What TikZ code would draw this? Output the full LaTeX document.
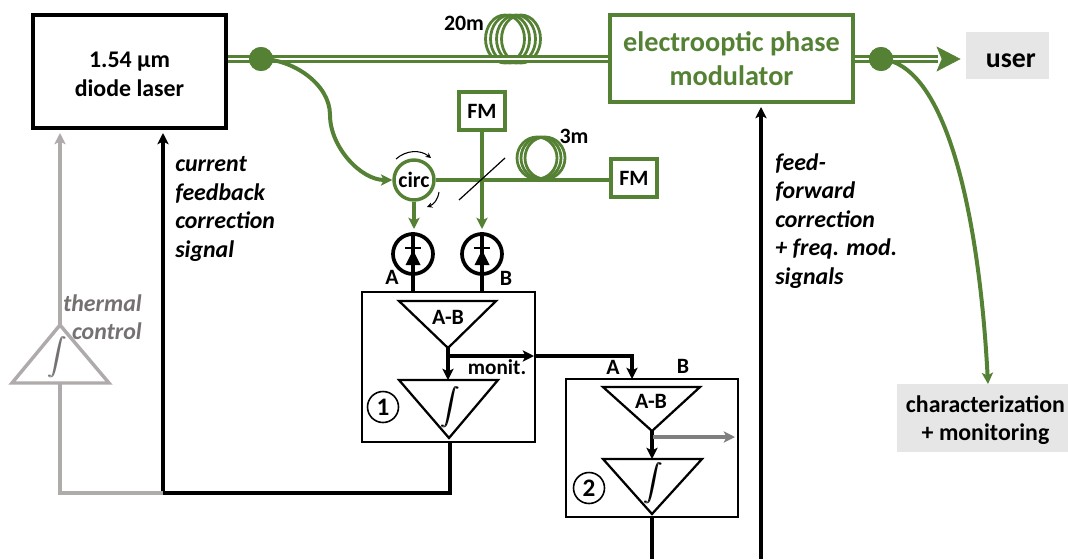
\documentclass[tikz,border=0pt]{standalone}
\usepackage{fontspec}
\setmainfont{Carlito}
\usepackage{xcolor}
\usetikzlibrary{arrows.meta,positioning,calc}
\definecolor{fibergreen}{HTML}{558135}
\definecolor{thermgray}{HTML}{AFABAB}
\definecolor{thermtext}{HTML}{767171}
\definecolor{outgray}{HTML}{7F7F7F}
\definecolor{boxgray}{HTML}{E7E6E6}
\def\lbl{\fontsize{16.5}{21.4}\selectfont\bfseries}
\def\biglbl{\fontsize{18}{21.4}\selectfont\bfseries}
\def\igr{\scalebox{1.4}{\rlap{$\displaystyle\int$}\kern0.5pt$\displaystyle\int$}}
\def\pxu{*0.0265cm}
\tikzset{
  blackbox/.style={draw=black,line width=2.6pt,minimum width=193\pxu,minimum height=113\pxu,font=\biglbl,align=center},
  greenbox/.style={draw=fibergreen,line width=2.4pt,font=\lbl,align=center},
  fmbox/.style={greenbox,minimum width=46\pxu,minimum height=38\pxu,inner sep=0pt},
  graybox/.style={fill=boxgray,font=\biglbl,align=center,inner sep=0pt},
  fiber/.style={draw=fibergreen,line width=1.8pt,double=white,double distance=1.8pt},
  coil/.style={draw=fibergreen,line width=2.1pt},
  single/.style={draw=fibergreen,line width=3pt},
  signal/.style={draw=black,line width=2.8pt},
  thermal/.style={draw=thermgray,line width=2.6pt},
  amp/.style={draw=black,line width=1.7pt,line join=miter},
  tip/.style={-{Stealth[length=8.5pt,width=8.5pt,inset=2pt]}},
  dot/.style={circle,fill=fibergreen,minimum size=24\pxu,inner sep=0pt},
  detector/.style={circle,draw=black,line width=2.8pt,minimum size=40\pxu,inner sep=0pt},
  mark1/.style={circle,draw=black,line width=1.2pt,minimum size=31\pxu,inner sep=0pt,font=\fontsize{19}{19}\selectfont\bfseries},
  txt/.style={font=\lbl,inner sep=0pt},
  itxt/.style={font=\biglbl\itshape,inner sep=0pt,align=left},
}
\begin{document}
\begin{tikzpicture}[x=0.0265cm,y=-0.0265cm]
  \useasboundingbox (0,0) rectangle (1068,559);
  % boxes
  \node[blackbox] (laser) at (129.5,71.5) {\rule{0pt}{16pt}1.54 µm\\diode laser};
  \node[greenbox,minimum width=243\pxu,minimum height=87\pxu,text=fibergreen,font=\fontsize{21.3}{25.5}\selectfont\bfseries] (eom) at (731.5,58.5) {electrooptic phase\\modulator};
  \node[fmbox] (fmtop) at (482,111) {FM};
  \node[fmbox] (fmright) at (634,178) {FM};
  \node[graybox,minimum width=83\pxu,minimum height=47\pxu,font=\fontsize{21}{21}\selectfont\bfseries] (user) at (1007.5,55.5) {\rule{0pt}{19pt}\kern5pt user};
  \node[graybox,minimum width=171\pxu,minimum height=68\pxu] (charac) at (982.5,418) {\rule{0pt}{16pt}\kern4.5pt characterization\\\kern4.5pt + monitoring};
  \node[circle,draw=fibergreen,line width=2.6pt,minimum size=40\pxu,inner sep=0pt,font=\lbl] (circ) at (414,180) {circ};
  % fibre coils
  \foreach \cx in {505,510,516,521}
    \draw[coil] (\cx,39) circle [x radius=19.5,y radius=24];
  \foreach \cx in {537,541,545}
    \draw[coil] (\cx,158) circle [x radius=20,y radius=21];
  \node[txt] (lenA) at (464,23) {20m};
  \node[txt] (lenB) at (574,136) {3m};
  % fibre links
  \node[dot] (tapin) at (261,59) {};
  \node[dot] (tapout) at (881,59) {};
  \draw[fiber] (laser.east |- tapin) -- (eom.west |- tapin);
  \coordinate (usertip) at (960,59);
  \coordinate (shaft) at (938,59);
  \coordinate (charin) at (988,384);
  \draw[fiber] (eom.east |- tapout) -- (shaft);
  \draw[fibergreen,fill=fibergreen] (usertip) -- (937,47) -- (942,59) -- (937,71) -- cycle;
  \node[dot] at (tapin) {};
  \node[dot] at (tapout) {};
  \draw[single,tip] (tapin.center) to[out=0,in=90,looseness=0.9] (330,115) to[out=-90,in=180,looseness=0.9] (circ.west);
  \draw[single,tip] (tapout.center) .. controls (950,65) and (980,230) .. (charin);
  \coordinate (split) at (482,179);
  \draw[single] (circ.east) -- (fmright.west |- circ.east);
  \draw[single,tip] (fmtop.south) -- (482,229);
  \draw[single,tip] (circ.south) -- (414,229);
  % beam splitter and circulator arrows
  \draw[black,line width=0.9pt] ($(split)+(-23,21)$) -- ($(split)+(23,-21)$);
  \coordinate (rotA) at (396,159);
  \coordinate (rotB) at (431,158);
  \coordinate (rotC) at (439,192);
  \coordinate (rotD) at (427,207);
  \draw[black,line width=0.8pt,-{Stealth[length=4pt,width=4pt]}] (rotA) to[bend left=40] (rotB);
  \draw[black,line width=0.8pt,-{Stealth[length=4pt,width=4pt]}] (rotC) to[bend left=30] (rotD);
  % detectors
  \foreach \n/\cx in {pdA/413,pdB/482} {
    \node[detector] (\n) at (\cx,254) {};
    \draw[black,line width=1.2pt] (\cx-8,248) -- (\cx+8,248);
    \fill[black] (\cx,250) -- (\cx+7.5,265) -- (\cx-7.5,265) -- cycle;
    \draw[signal] (\n.north) -- (\cx,292);
  }
  \node[txt] (labA) at (392,277) {A};
  \node[txt] (labB) at (506,278) {B};
  % servo 1
  \node[draw=black,line width=2.2pt,minimum width=173\pxu,minimum height=150\pxu] (servoA) at (448.5,367) {};
  \coordinate (ampA) at (448,348);
  \coordinate (intA) at (448,380);
  \draw[amp] (399,301) -- (496,301) -- (ampA) -- cycle;
  \draw[amp] (399,380) -- (498,380) -- (449,438) -- cycle;
  \node[txt] (diffA) at (448,317) {A-B};
  \node[inner sep=0pt] (igrA) at (450,407) {\igr};
  \node[mark1] (numA) at (383,407) {1};
  \draw[signal,tip] (ampA) -- (intA);
  \node[txt,font=\fontsize{16}{16}\selectfont\bfseries] (monit) at (497,367) {monit.};
  % servo 2
  \node[draw=black,line width=2.2pt,minimum width=172\pxu,minimum height=138\pxu] (servoB) at (652,448) {};
  \coordinate (ampB) at (652,431);
  \coordinate (intB) at (652,459);
  \draw[amp] (603,387) -- (700,387) -- (ampB) -- cycle;
  \draw[amp] (603,459) -- (702,459) -- (652,514) -- cycle;
  \node[txt] (diffB) at (651,401) {A-B};
  \node[inner sep=0pt] (igrB) at (653,483) {\igr};
  \node[mark1] (numB) at (589,488) {2};
  \draw[signal,tip] (ampB) -- (intB);
  \draw[draw=outgray,line width=2.6pt,tip] (653,437) -- (735,437);
  \node[txt] (inA) at (613,367) {A};
  \node[txt] (inB) at (683,366) {B};
  % monitor link
  \coordinate (montap) at (448,356);
  \coordinate (monhead) at (534,356);
  \draw[signal,tip] (montap) -- (monhead);
  \draw[signal,tip] (monhead) -- (632,356) -- (632,379);
  % feedback
  \coordinate (corner) at (163,493);
  \coordinate (laserfb) at (163,133);
  \coordinate (servoout) at (450,442);
  \draw[signal,tip] (servoout) -- (450,493) -- (corner) -- (laserfb);
  \coordinate (base) at (60,383);
  \coordinate (apex) at (60,325);
  \draw[thermal] (corner) -- (60,493) -- (base);
  \draw[thermal] (12,383) -- (109,383) -- (apex) -- cycle;
  \draw[thermal,tip] (apex) -- (60,133);
  \node[inner sep=0pt,text=thermtext] (igrT) at (57,357) {\igr};
  \node[itxt,align=right,anchor=east,text=thermtext] (therm) at (142,317.5) {thermal\\control};
  \node[itxt,anchor=west] (curr) at (175,209) {current\\feedback\\correction\\signal};
  % feed-forward
  \coordinate (eomfb) at (761,107);
  \coordinate (bottomA) at (761,559);
  \coordinate (bottomB) at (652,559);
  \coordinate (servoBout) at (652,517);
  \draw[signal,tip] (bottomA) -- (eomfb);
  \node[itxt,anchor=west] (feed) at (775,221) {feed-\\forward\\correction\\+ freq. mod.\\signals};
  \draw[signal] (servoBout) -- (bottomB);
\end{tikzpicture}
\end{document}
